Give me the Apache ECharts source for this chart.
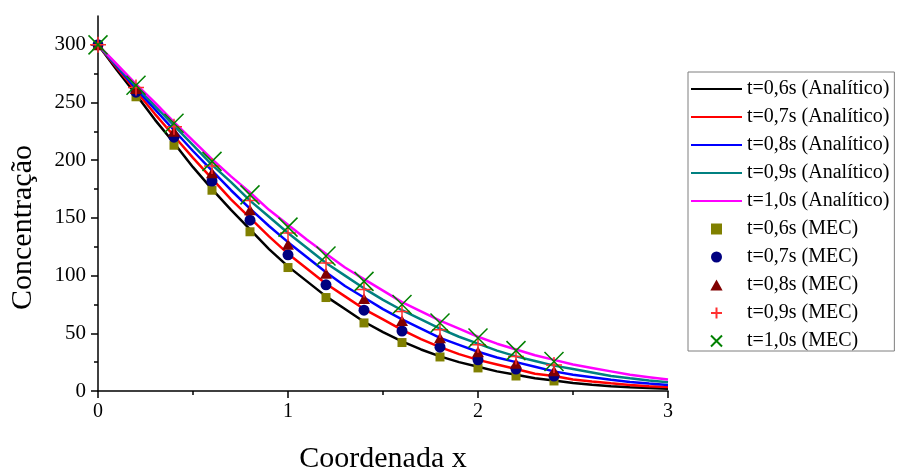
<!DOCTYPE html>
<html>
<head>
<meta charset="utf-8">
<script src="https://cdn.jsdelivr.net/npm/echarts@6/dist/echarts.min.js"></script>
<style>
html,body{margin:0;padding:0;background:#fff;}
#chart{width:898px;height:472px;}
</style>
</head>
<body>
<div id="chart"></div>
<script>
// Analytic solution sample positions
const xAnalytic = [0,0.1,0.2,0.3,0.4,0.5,0.6,0.7,0.8,0.9,1.0,1.1,1.2,1.3,1.4,1.5,1.6,1.7,1.8,1.9,2.0,2.1,2.2,2.3,2.4,2.5,2.6,2.7,2.8,2.9,3.0];
const analitico06 = [300,278,257,235,215,194,175,157,140,123,108,95,82,71,60,51,43,36,30,25,21,17,14,11,9,7,5.4,4.2,3.3,2.5,1.9];
const analitico07 = [300,280,260,240,221,202,184,166,150,134,119,106,93,82,71,62,53,45,38,32,27,23,19,15,13,10,8.3,6.7,5.3,4.2,3.4];
const analitico08 = [300,281,262,244,226,208,191,174,158,143,129,116,103,91,81,71,62,54,46,40,34,29,25,21,17,14,12,9.7,7.9,6.4,5.2];
const analitico09 = [300,282,264,247,230,213,196,181,165,151,137,124,111,100,89,79,70,62,54,47,41,35,30,26,22,19,16,13,11,9.2,7.6];
const analitico10 = [300,283,266,250,233,217,201,186,172,157,144,131,119,107,97,87,77,69,61,54,47,41,36,31,27,23,20,17,14,12,10];

// MEC (boundary element) points
const xMEC = [0,0.2,0.4,0.6,0.8,1.0,1.2,1.4,1.6,1.8,2.0,2.2,2.4];
const mec06 = [300,255,213,174,138,107,81,59,42,29.5,20,13,8.7];
const mec07 = [300,259,220,182,148,118,92,70,52,38,27,19,13];
const mec08 = [300,262,225,189,157,127,102,80,61,46,34,24,17.5];
const mec09 = [300,263,229,195,165,137,111,88,69,53,40,30,22.5];
const mec10 = [300,265,232,199,170,142,117,95,75,59,46,35,25.5];

const namesAnalitico = ['t=0,6s (Analítico)','t=0,7s (Analítico)','t=0,8s (Analítico)','t=0,9s (Analítico)','t=1,0s (Analítico)'];
const namesMEC = ['t=0,6s (MEC)','t=0,7s (MEC)','t=0,8s (MEC)','t=0,9s (MEC)','t=1,0s (MEC)'];
const yMajorTicks = [0,50,100,150,200,250,300];
const yMinorTicks = [25,75,125,175,225,275];

const FONT = '"Liberation Serif", "DejaVu Serif", serif';
const lineColors = ['#000000','#ff0000','#0000ff','#008080','#ff00ff'];
const analyticData = [analitico06,analitico07,analitico08,analitico09,analitico10];
const mecData = [mec06,mec07,mec08,mec09,mec10];

function pairs(xs, ys){ return xs.map((x,i)=>[x, ys[i]]); }

const series = [];
analyticData.forEach((arr,i)=>{
  series.push({
    name: namesAnalitico[i], type:'line', data: pairs(xAnalytic, arr),
    symbol:'circle', symbolSize:3, showSymbol:false,
    lineStyle:{color:lineColors[i], width:2.5},
    itemStyle:{color:lineColors[i]}, animation:false, silent:true, z:2
  });
});
const mecStyles = [
  {symbol:'path://M0,0L10,0L10,10L0,10Z', size:9, itemStyle:{color:'#808000', opacity:1}},
  {symbol:'circle', size:11, itemStyle:{color:'#000080', opacity:1}},
  {symbol:'path://M5,0L10,9L0,9Z', size:12, itemStyle:{color:'#800000', opacity:1}},
  {symbol:'path://M0,5L10,5M5,0L5,10', size:16, itemStyle:{color:'transparent', borderColor:'#ff3030', borderWidth:1.5, opacity:1}},
  {symbol:'path://M0,0L10,10M10,0L0,10', size:19, itemStyle:{color:'transparent', borderColor:'#008000', borderWidth:1.5, opacity:1}}
];
mecData.forEach((arr,i)=>{
  series.push({
    name: namesMEC[i], type:'scatter', data: pairs(xMEC, arr),
    symbol: mecStyles[i].symbol, symbolSize: mecStyles[i].size, symbolKeepAspect:true,
    itemStyle: mecStyles[i].itemStyle, animation:false, silent:true, z:3
  });
});

const legendData = namesAnalitico.map(n=>({name:n, itemStyle:{color:'transparent', borderColor:'transparent'}}))
  .concat(namesMEC.map(n=>({name:n})));

const axisLineStyle = {color:'#000', width:1.5};
const option = {
  backgroundColor:'#fff',
  animation:false,
  grid:{left:98, top:16, width:570, height:375, containLabel:false, outerBoundsMode:'none'},
  legend:{
    orient:'vertical', left:688, top:72,
    padding:[7,5,0,2],
    itemWidth:51, itemHeight:11, itemGap:8,
    borderColor:'#7f7f7f', borderWidth:1,
    textStyle:{fontFamily:FONT, fontSize:20, color:'#000'},
    data: legendData,
    selectedMode:false
  },
  xAxis:[
    {type:'value', min:0, max:3, interval:1, position:'bottom',
     name:'Coordenada x', nameLocation:'middle', nameGap:53,
     nameTextStyle:{fontFamily:FONT, fontSize:30, color:'#000'},
     axisLine:{show:true, onZero:false, lineStyle:axisLineStyle},
     axisTick:{show:true, inside:false, length:7, lineStyle:axisLineStyle},
     axisLabel:{fontFamily:FONT, fontSize:20, color:'#000', margin:11},
     splitLine:{show:false}},
    {type:'value', min:0, max:3, interval:0.5, position:'bottom', offset:0,
     axisLine:{show:false}, axisLabel:{show:false},
     axisTick:{show:true, inside:false, length:4, lineStyle:axisLineStyle},
     splitLine:{show:false}}
  ],
  yAxis:[
    {type:'value', min:0, max:325, interval:50, position:'left',
     name:'Concentração', nameLocation:'middle', nameGap:60,
     nameTextStyle:{fontFamily:FONT, fontSize:30, color:'#000', padding:[0,48,0,0]},
     axisLine:{show:true, onZero:false, lineStyle:axisLineStyle},
     axisTick:{show:true, inside:false, length:7, lineStyle:axisLineStyle, customValues:yMajorTicks},
     axisLabel:{fontFamily:FONT, fontSize:21, color:'#000', margin:12, customValues:yMajorTicks,
       formatter:function(v){ return v>300 ? '' : String(v); }},
     splitLine:{show:false}},
    {type:'value', min:0, max:325, interval:25, position:'left', offset:0,
     axisLine:{show:false}, axisLabel:{show:false},
     axisTick:{show:true, inside:false, length:4, lineStyle:axisLineStyle, customValues:yMinorTicks},
     splitLine:{show:false}}
  ],
  series: series
};
const chart = echarts.init(document.getElementById('chart'), null, {renderer:'canvas'});
chart.setOption(option);
</script>
</body>
</html>
